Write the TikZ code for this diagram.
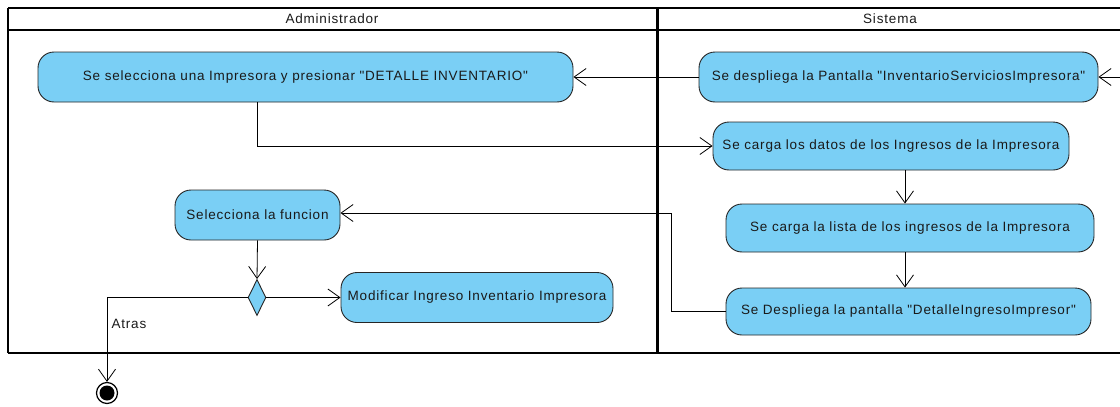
\documentclass[tikz,border=0pt]{standalone}
\usepackage{fontspec}
\setmainfont{Liberation Sans}[LetterSpace=6,Ligatures=TeXOff]
\usetikzlibrary{arrows.meta,calc,shapes.geometric}
\definecolor{actfill}{HTML}{7ACFF5}
\definecolor{txt}{HTML}{1A1A1A}
\newcommand{\myq}{\char34\relax}
\begin{document}
\begin{tikzpicture}[x=1pt,y=-1pt,
  act/.style={draw=black!85,line width=0.9pt,fill=actfill,rounded corners=16pt,
    text=txt,font=\fontsize{13.5}{15}\selectfont,inner sep=0pt,align=center},
  arr/.style={draw=black,line width=0.8pt,-{Straight Barb[length=12pt,width=17pt,line width=0.8pt]}},
  lane/.style={draw=black,line width=2pt},
  hdr/.style={font=\fontsize{13.5}{15}\selectfont,text=txt}
]
\useasboundingbox (0,0) rectangle (1120,407);
% swimlane frame
\draw[lane] (8,8) -- (1130,8);
\draw[lane] (8,30) -- (1130,30);
\draw[lane] (8,353) -- (1130,353);
\draw[lane] (8,8) -- (8,353);
\draw[draw=black,line width=3pt] (657,8) -- (657,353);
\node[hdr] (hA) at (332,19) {Administrador};
\node[hdr] (hS) at (890,19) {Sistema};
% activities
\node[act,minimum width=535pt,minimum height=50pt] (n1) at (305.5,77) {Se selecciona una Impresora y presionar \myq DETALLE INVENTARIO\myq};
\node[act,minimum width=399pt,minimum height=50pt] (n2) at (898.5,77) {Se despliega la Pantalla \myq InventarioServiciosImpresora\myq};
\node[act,minimum width=356pt,minimum height=48pt] (n3) at (891,146) {Se carga los datos de los Ingresos de la Impresora};
\node[act,minimum width=368pt,minimum height=48pt] (n4) at (910,228) {Se carga la lista de los ingresos de la Impresora};
\node[act,minimum width=365pt,minimum height=47pt] (n5) at (908.5,311.5) {Se Despliega la pantalla \myq DetalleIngresoImpresor\myq};
\node[act,minimum width=165pt,minimum height=50pt] (n6) at (257.5,215) {Selecciona la funcion};
\node[act,minimum width=272pt,minimum height=50pt] (n8) at (477,297.5) {Modificar Ingreso Inventario Impresora};
\node[diamond,draw=black!85,line width=0.9pt,fill=actfill,inner sep=0pt,minimum width=18pt,minimum height=36pt] (dia) at (257,297.5) {};
% final node
\node[circle,draw=black,line width=1.2pt,fill=white,minimum size=21pt,inner sep=0pt] (fin) at (107,393) {};
\fill[black] (fin.center) circle (7.5pt);
% connectors
\coordinate (inR) at (1125,77);
\draw[arr] (inR) -- (n2.east);
\draw[arr] (n2.west) -- (n1.east);
\draw[arr] ($(n1.south)+(-48,0)$) |- (n3.west);
\draw[arr] ($(n3.south)+(14,0)$) -- ($(n4.north)+(-5,0)$);
\draw[arr] ($(n4.south)+(-5,0)$) -- ($(n5.north)+(-3.5,0)$);
\draw[arr] (n5.west) -- ++(-54,0) |- ($(n6.east)+(0,-2)$);
\draw[arr] (n6.south) -- (dia.north);
\draw[arr] (dia.east) -- (n8.west);
\draw[arr] (dia.west) -| (fin.north);
\node[hdr,anchor=west] (lblAtras) at (108,324) {Atras};
\end{tikzpicture}
\end{document}
